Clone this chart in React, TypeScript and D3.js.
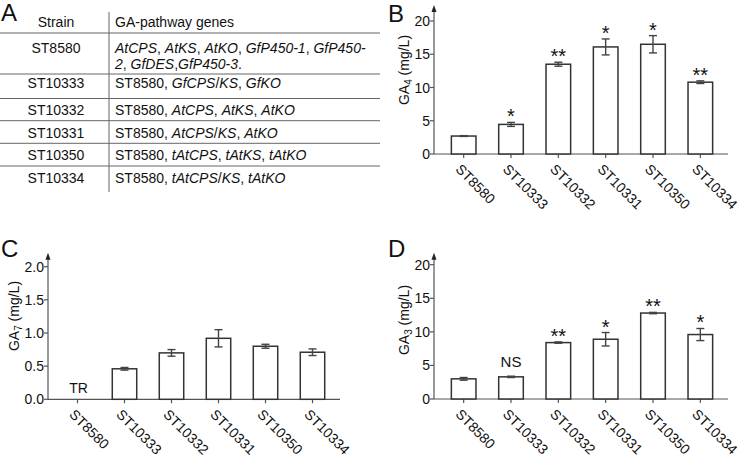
import React from "react";
import * as d3 from "d3";

// ---------- data ----------
const strains = ["ST8580", "ST10333", "ST10332", "ST10331", "ST10350", "ST10334"];

const ga4Mean = [2.7, 4.45, 13.5, 16.1, 16.5, 10.8];
const ga4Err = [0.06, 0.3, 0.3, 1.2, 1.3, 0.2];
const ga4Sig = ["", "*", "**", "*", "*", "**"];
const ga4Ticks = [0, 5, 10, 15, 20];

const ga7Mean = [0, 0.46, 0.7, 0.92, 0.8, 0.71];
const ga7Err = [0, 0.02, 0.05, 0.13, 0.03, 0.05];
const ga7Sig = ["TR", "", "", "", "", ""];
const ga7Ticks = [0, 0.5, 1.0, 1.5, 2.0];

const ga3Mean = [3.0, 3.3, 8.4, 8.9, 12.8, 9.6];
const ga3Err = [0.2, 0.1, 0.1, 1.0, 0.1, 0.9];
const ga3Sig = ["", "NS", "**", "*", "**", "*"];
const ga3Ticks = [0, 5, 10, 15, 20];

// table: strain, gene lines as segments [text, italic]
const tableHeader = ["Strain", "GA-pathway genes"];
const tableStrains = ["ST8580", "ST10333", "ST10332", "ST10331", "ST10350", "ST10334"];
const tableGenes: [string, boolean][][][] = [
  [
    [["AtCPS", true], [", ", false], ["AtKS", true], [", ", false], ["AtKO", true], [", ", false], ["GfP450-1", true], [", ", false], ["GfP450-", true]],
    [["2", true], [", ", false], ["GfDES", true], [",", false], ["GfP450-3", true], [".", false]],
  ],
  [[["ST8580, ", false], ["GfCPS", true], ["/", false], ["KS", true], [", ", false], ["GfKO", true]]],
  [[["ST8580, ", false], ["AtCPS", true], [", ", false], ["AtKS", true], [", ", false], ["AtKO", true]]],
  [[["ST8580, ", false], ["AtCPS", true], ["/", false], ["KS", true], [", ", false], ["AtKO", true]]],
  [[["ST8580, ", false], ["tAtCPS", true], [", ", false], ["tAtKS", true], [", ", false], ["tAtKO", true]]],
  [[["ST8580, ", false], ["tAtCPS", true], ["/", false], ["KS", true], [", ", false], ["tAtKO", true]]],
];

const FONT = "'Liberation Sans', Arial, sans-serif";

type PanelProps = {
  letter: string;
  letterX: number;
  letterY: number;
  means: number[];
  errs: number[];
  sigs: string[];
  ticks: number[];
  tickFmt: (v: number) => string;
  sub: string;
  x0: number;
  xEnd: number;
  y0: number;
  yTopPx: number;
  arrowTip: number;
  labelX: number;
  labelY: number;
};

function Panel(p: PanelProps) {
  const yMax = p.ticks[p.ticks.length - 1];
  const y = d3.scaleLinear().domain([0, yMax]).range([p.y0, p.yTopPx]);
  const x = d3.scaleBand<string>().domain(strains).range([p.x0 + 6, p.xEnd - 4]).padding(0);
  const bw = x.bandwidth() * 0.52;
  const axisColor = "#555";
  return (
    <g fontFamily={FONT}>
      <text x={p.letterX} y={p.letterY} fontSize={24} fill="#111">{p.letter}</text>
      {/* y axis */}
      <line x1={p.x0} x2={p.x0} y1={p.y0} y2={p.arrowTip + 4} stroke={axisColor} strokeWidth={1.2} />
      <path d={`M${p.x0},${p.arrowTip} L${p.x0 - 2.5},${p.arrowTip + 7} L${p.x0 + 2.5},${p.arrowTip + 7} Z`} fill="#222" />
      {p.ticks.map((t) => (
        <g key={t}>
          <line x1={p.x0 - 4} x2={p.x0} y1={y(t)} y2={y(t)} stroke={axisColor} strokeWidth={1.2} />
          <text x={p.x0 - 4} y={y(t)} dy="0.36em" textAnchor="end" fontSize={14} fill="#111">{p.tickFmt(t)}</text>
        </g>
      ))}
      {/* x axis */}
      <line x1={p.x0} x2={p.xEnd} y1={p.y0} y2={p.y0} stroke={axisColor} strokeWidth={1.2} />
      {strains.map((s) => {
        const cx = (x(s) as number) + x.bandwidth() / 2;
        return (
          <g key={s}>
            <line x1={cx} x2={cx} y1={p.y0} y2={p.y0 + 4} stroke={axisColor} strokeWidth={1.2} />
            <text transform={`translate(${cx - 9},${p.y0 + 16}) rotate(45)`} fontSize={14} fill="#111">{s}</text>
          </g>
        );
      })}
      {/* bars */}
      {strains.map((s, i) => {
        const cx = (x(s) as number) + x.bandwidth() / 2;
        const m = p.means[i];
        const e = p.errs[i];
        const errTop = y(m + e);
        const sig = p.sigs[i];
        return (
          <g key={s}>
            {m > 0 && (
              <rect x={cx - bw / 2} y={y(m)} width={bw} height={p.y0 - y(m)} fill="#fff" stroke="#333" strokeWidth={1.5} />
            )}
            {m > 0 && e > 0 && (
              <g stroke="#444" strokeWidth={1.4}>
                <line x1={cx} x2={cx} y1={y(m + e)} y2={y(m - e)} />
                <line x1={cx - 4} x2={cx + 4} y1={y(m + e)} y2={y(m + e)} />
                <line x1={cx - 4} x2={cx + 4} y1={y(m - e)} y2={y(m - e)} />
              </g>
            )}
            {sig === "*" || sig === "**" ? (
              <text x={cx} y={errTop + 1} textAnchor="middle" fontSize={20} fill="#111">{sig}</text>
            ) : sig === "NS" ? (
              <text x={cx} y={errTop - 9} textAnchor="middle" fontSize={15} fill="#111">{sig}</text>
            ) : sig === "TR" ? (
              <text x={cx + 1} y={p.y0 - 6} textAnchor="middle" fontSize={14} fill="#111">{sig}</text>
            ) : null}
          </g>
        );
      })}
      {/* y label */}
      <text transform={`translate(${p.labelX},${p.labelY}) rotate(-90)`} textAnchor="middle" fontSize={14} fill="#111">
        GA<tspan fontSize={10} dy={3}>{p.sub}</tspan><tspan dy={-3}> (mg/L)</tspan>
      </text>
    </g>
  );
}

function Table() {
  const hLines = [33, 74, 98.5, 120.7, 143.3, 166];
  const baselines = [52.5, 88, 115, 137.5, 160, 182.5];
  return (
    <g fontFamily={FONT} fill="#111">
      <text x={1} y={21} fontSize={24}>A</text>
      <text x={56} y={27} textAnchor="middle" fontSize={14}>{tableHeader[0]}</text>
      <text x={115} y={27} fontSize={14}>{tableHeader[1]}</text>
      {hLines.map((hy) => (
        <line key={hy} x1={0} x2={380} y1={hy} y2={hy} stroke="#666" strokeWidth={1} />
      ))}
      <line x1={109} x2={109} y1={12} y2={192} stroke="#666" strokeWidth={1} />
      {tableStrains.map((s, i) => (
        <g key={s}>
          <text x={56} y={baselines[i]} textAnchor="middle" fontSize={14}>{s}</text>
          {tableGenes[i].map((line, li) => (
            <text key={li} x={115} y={baselines[i] + li * 16.5} fontSize={14}>
              {line.map(([t, it], k) => (
                <tspan key={k} fontStyle={it ? "italic" : "normal"}>{t}</tspan>
              ))}
            </text>
          ))}
        </g>
      ))}
    </g>
  );
}

export default function App() {
  const f0 = (v: number) => d3.format("d")(v);
  const f1 = (v: number) => d3.format(".1f")(v);
  return (
    <svg width={740} height={455} style={{ position: "absolute", left: 0, top: 0, background: "#fff" }}>
      <rect width={740} height={455} fill="#fff" />
      <Table />
      <Panel letter="B" letterX={388} letterY={22} means={ga4Mean} errs={ga4Err} sigs={ga4Sig} ticks={ga4Ticks} tickFmt={f0}
        sub="4" x0={434} xEnd={728} y0={154} yTopPx={21} arrowTip={5} labelX={409} labelY={70} />
      <Panel letter="C" letterX={1} letterY={257} means={ga7Mean} errs={ga7Err} sigs={ga7Sig} ticks={ga7Ticks} tickFmt={f1}
        sub="7" x0={48} xEnd={340} y0={399.3} yTopPx={266.7} arrowTip={252.7} labelX={19} labelY={316} />
      <Panel letter="D" letterX={388} letterY={257} means={ga3Mean} errs={ga3Err} sigs={ga3Sig} ticks={ga3Ticks} tickFmt={f0}
        sub="3" x0={434} xEnd={728} y0={399} yTopPx={264.7} arrowTip={252.7} labelX={409} labelY={320} />
    </svg>
  );
}
